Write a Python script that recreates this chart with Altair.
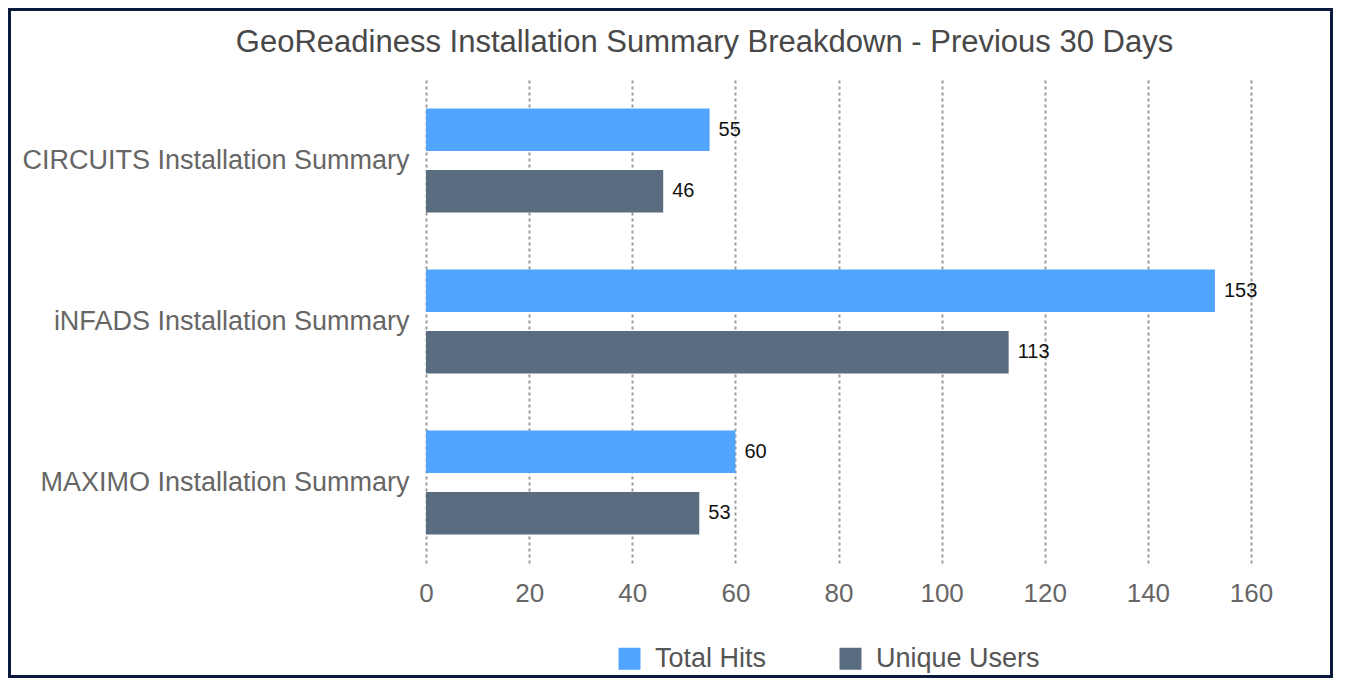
import altair as alt
import pandas as pd

categories = ["CIRCUITS Installation Summary", "iNFADS Installation Summary", "MAXIMO Installation Summary"]
series = ["Total Hits", "Unique Users"]
total_hits = [55, 153, 60]
unique_users = [46, 113, 53]
x_ticks = [0, 20, 40, 60, 80, 100, 120, 140, 160]
colors = ["#51a5ff", "#5a6d80"]

rows = []
for c, t, u in zip(categories, total_hits, unique_users):
    rows.append({"category": c, "series": series[0], "value": t})
    rows.append({"category": c, "series": series[1], "value": u})
df = pd.DataFrame(rows)

FONT = "Liberation Sans"

y_enc = alt.Y(
    "category:N", sort=categories,
    scale=alt.Scale(paddingInner=0.354, paddingOuter=0.177),
    axis=alt.Axis(title=None, domain=False, ticks=False, labelFontSize=27,
                  labelColor="#666666", labelPadding=17, labelLimit=700, labelFont=FONT),
)
yoff_enc = alt.YOffset("series:N", sort=series,
                       scale=alt.Scale(paddingInner=0.309, paddingOuter=0))
x_enc = alt.X(
    "value:Q", scale=alt.Scale(domain=[0, 160], nice=False),
    axis=alt.Axis(values=x_ticks, title=None, domain=False, ticks=False, grid=True,
                  gridDash=[3, 3], gridColor="#9a9a9a", gridWidth=2, labelFlush=False,
                  labelFontSize=26, labelColor="#666666", labelPadding=17, labelFont=FONT),
)

bars = alt.Chart(df).mark_bar().encode(
    y=y_enc, yOffset=yoff_enc, x=x_enc,
    color=alt.Color("series:N", sort=series,
                    scale=alt.Scale(domain=series, range=colors),
                    legend=alt.Legend(title=None, orient="none", direction="horizontal",
                                      legendX=190, legendY=565, padding=0,
                                      symbolType="square", symbolSize=484,
                                      symbolStrokeWidth=0, labelFontSize=27,
                                      labelColor="#555555", labelFont=FONT, labelLimit=400,
                                      columnPadding=70, labelOffset=12)),
)

labels = alt.Chart(df).mark_text(align="left", baseline="middle", dx=9, fontSize=20,
                                 color="#111111", font=FONT).encode(
    y=alt.Y("category:N", sort=categories),
    yOffset=alt.YOffset("series:N", sort=series),
    x=alt.X("value:Q"),
    text=alt.Text("value:Q"),
)

frame = alt.Chart(pd.DataFrame({"a": [0]})).mark_rect(
    filled=False, stroke="#0c1a3e", strokeWidth=3).encode(
    x=alt.value(-416.5), x2=alt.value(905.5), y=alt.value(-70.5), y2=alt.value(596.5)
)

chart = alt.layer(bars, labels, frame).properties(
    width=825, height=483,
    title=alt.TitleParams("GeoReadiness Installation Summary Breakdown - Previous 30 Days",
                          fontSize=31, font=FONT, fontWeight="normal", color="#484848",
                          anchor="middle", dx=-134, dy=75, baseline="alphabetic", offset=0,
                          frame="group"),
    autosize=alt.AutoSizeParams(type="none"),
    padding={"left": 418, "top": 72, "right": 82, "bottom": 115},
).configure(font=FONT).configure_view(stroke=None)

chart.save("out.html", embed_options={"renderer": "svg", "actions": False})
